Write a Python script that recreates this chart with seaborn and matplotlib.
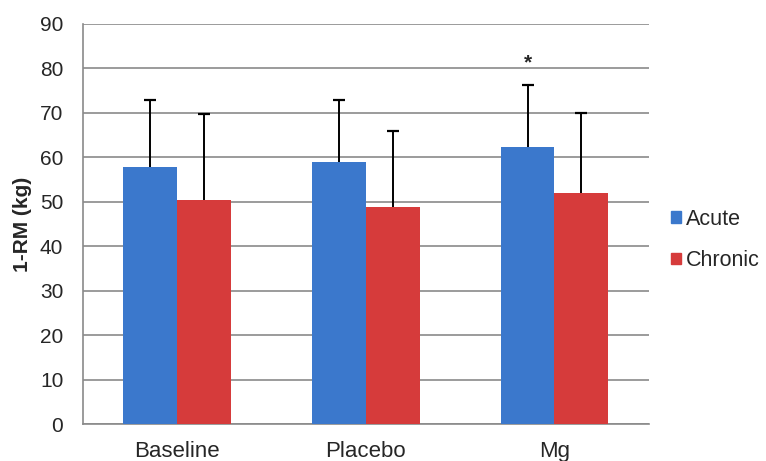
import pandas as pd
import numpy as np
import seaborn as sns
import matplotlib.pyplot as plt

# ------------------- Data -------------------
groups = ['Baseline', 'Placebo', 'Mg']
acute = [57.9, 59.0, 62.4]
chronic = [50.5, 48.9, 51.9]
acute_sd = [15.1, 13.8, 13.9]
chronic_sd = [19.2, 17.0, 18.1]
series = ['Acute', 'Chronic']
colors = ['#3b78cc', '#d63b3b']

df = pd.DataFrame({
    'group': groups * 2,
    'series': ['Acute'] * 3 + ['Chronic'] * 3,
    'value': acute + chronic,
    'sd': acute_sd + chronic_sd,
})

# ------------------- Plot -------------------
sns.set_style('white')
plt.rcParams['font.family'] = ['Liberation Sans', 'DejaVu Sans']

fig = plt.figure(figsize=(7.66, 4.61), dpi=100)
ax = fig.add_axes([0.108, 0.080, 0.739, 0.868])

sns.barplot(data=df, x='group', y='value', hue='series', order=groups,
            hue_order=series, palette=colors, width=0.57, errorbar=None,
            saturation=1, ax=ax, zorder=3, edgecolor='none', legend=False)

# error bars (upper only), positions taken from the drawn bars
for i, s in enumerate(series):
    bars = ax.containers[i]
    sub = df[df['series'] == s].set_index('group').loc[groups]
    xs = np.array([b.get_x() + b.get_width() / 2 for b in bars])
    ys = np.array([b.get_height() for b in bars])
    tops = ys + sub['sd'].values
    ax.vlines(xs, ys, tops, color='black', linewidth=1.4, zorder=4)
    ax.plot(xs, tops, linestyle='none', marker='_', markersize=9,
            markeredgewidth=1.6, color='black', zorder=4)

# significance star above Mg acute
mg_bar = ax.containers[0][2]
ax.text(mg_bar.get_x() + mg_bar.get_width() / 2, 79.2, '*',
        ha='center', va='bottom', fontsize=15, fontweight='bold')

ax.set_ylim(0, 90)
ax.set_xlim(-0.5, 2.5)
ax.set_yticks(range(0, 91, 10))
ax.yaxis.grid(True, color='#8a8a8a', linewidth=1.2, zorder=0)
ax.set_axisbelow(True)
for sp in ['top', 'right']:
    ax.spines[sp].set_visible(False)
for sp in ['left', 'bottom']:
    ax.spines[sp].set_color('#8a8a8a')
    ax.spines[sp].set_linewidth(1.2)
ax.tick_params(axis='y', length=0, labelsize=15, pad=14)
ax.tick_params(axis='x', length=0, labelsize=16, pad=12)
ax.set_xlabel('')
ax.set_ylabel('1-RM (kg)', fontsize=15, fontweight='bold', labelpad=6)

handles = [plt.Rectangle((0, 0), 1, 1, color=c) for c in colors]
ax.legend(handles, series, loc='center left', bbox_to_anchor=(1.013, 0.46),
          frameon=False, fontsize=15.5, handlelength=0.45, handleheight=0.45,
          handletextpad=0.25, labelspacing=0.95, borderpad=0.2)

plt.savefig('out.png', dpi=100)
